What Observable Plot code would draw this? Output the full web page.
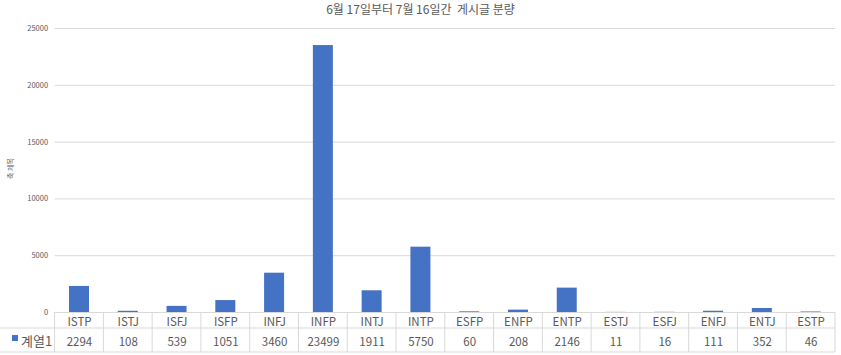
<!DOCTYPE html>
<html>
<head>
<meta charset="utf-8">
<script src="https://cdn.jsdelivr.net/npm/d3@7"></script>
<script src="https://cdn.jsdelivr.net/npm/@observablehq/plot@0.6"></script>
<style>
  html, body { margin: 0; padding: 0; background: #fff; }
  svg { font-family: "Noto Sans CJK KR", "Noto Sans", sans-serif; }
</style>
</head>
<body>
<div id="chart"></div>
<script>
const title = "6월 17일부터 7월 16일간  게시글 분량";
const yLabel = "축 제목";
const seriesName = "계열1";
const categories = ["ISTP","ISTJ","ISFJ","ISFP","INFJ","INFP","INTJ","INTP","ESFP","ENFP","ENTP","ESTJ","ESFJ","ENFJ","ENTJ","ESTP"];
const values = [2294,108,539,1051,3460,23499,1911,5750,60,208,2146,11,16,111,352,46];
const yTicks = [0,5000,10000,15000,20000,25000];

const data = categories.map((c, i) => ({type: c, value: values[i]}));
const gray = "#595959";
const lineColor = "#d9d9d9";
const blue = "#4472C4";
const W = 841, H = 355;
const padIn = 0.59;

const chart = Plot.plot({
  width: W,
  height: H,
  marginTop: 28,
  marginBottom: 43,
  marginLeft: 54.6,
  marginRight: 6,
  style: {background: "#fff", fontFamily: "'Noto Sans CJK KR', sans-serif"},
  x: {domain: categories, paddingInner: padIn, paddingOuter: padIn / 2, round: false, axis: null},
  y: {domain: [0, 25000], axis: null},
  marks: [
    Plot.gridY(yTicks, {stroke: lineColor, strokeOpacity: 1, strokeWidth: 1}),
    Plot.axisY(yTicks, {tickSize: 0, tickPadding: 7, fontSize: 7.5, fill: gray, label: null, tickFormat: d => String(d)}),
    Plot.barY(data, {x: "type", y: "value", fill: blue}),
    Plot.text(data, {x: "type", text: "type", frameAnchor: "bottom", lineAnchor: "middle", dy: 9.5, fontSize: 11.5, fill: gray}),
    Plot.text(data, {x: "type", text: d => String(d.value), frameAnchor: "bottom", lineAnchor: "middle", dy: 29.5, fontSize: 11.5, fill: gray}),
    Plot.text([yLabel], {frameAnchor: "left", textAnchor: "middle", lineAnchor: "middle", dx: -44, dy: -2, rotate: -90, fontSize: 7, fill: gray})
  ]
});

// Data table grid drawn from the chart's own scales
const xs = chart.scale("x");
const ys = chart.scale("y");
const step = xs.apply(categories[1]) - xs.apply(categories[0]);
const bw = step * (1 - padIn);
const y0 = ys.apply(0);
const rowMid = y0 + 16;
const rowBot = y0 + 40;
const svg = d3.select(chart);

// title centered on the whole image
svg.append("text").attr("x", W / 2).attr("y", 10).attr("dy", "0.35em")
  .attr("text-anchor", "middle").attr("font-size", 12).attr("fill", gray).text(title);

const g = svg.append("g").attr("stroke", lineColor).attr("stroke-width", 1).attr("fill", "none");
const lefts = categories.map(c => xs.apply(c) + bw / 2 - step / 2);
const xEnd = lefts[lefts.length - 1] + step;
[...lefts, xEnd].forEach(x => {
  g.append("line").attr("x1", x).attr("x2", x).attr("y1", y0).attr("y2", rowBot);
});
g.append("line").attr("x1", 0).attr("x2", xEnd).attr("y1", rowMid).attr("y2", rowMid);
g.append("line").attr("x1", 0).attr("x2", xEnd).attr("y1", rowBot).attr("y2", rowBot);
// legend key in table
svg.append("rect").attr("x", 12).attr("y", rowMid + 7).attr("width", 6).attr("height", 6).attr("fill", blue);
svg.append("text").attr("x", 21).attr("y", rowMid + 13).attr("dy", "0.35em")
  .attr("text-anchor", "start").attr("font-size", 13).attr("fill", gray).text(seriesName);

document.getElementById("chart").appendChild(chart);
</script>
</body>
</html>
